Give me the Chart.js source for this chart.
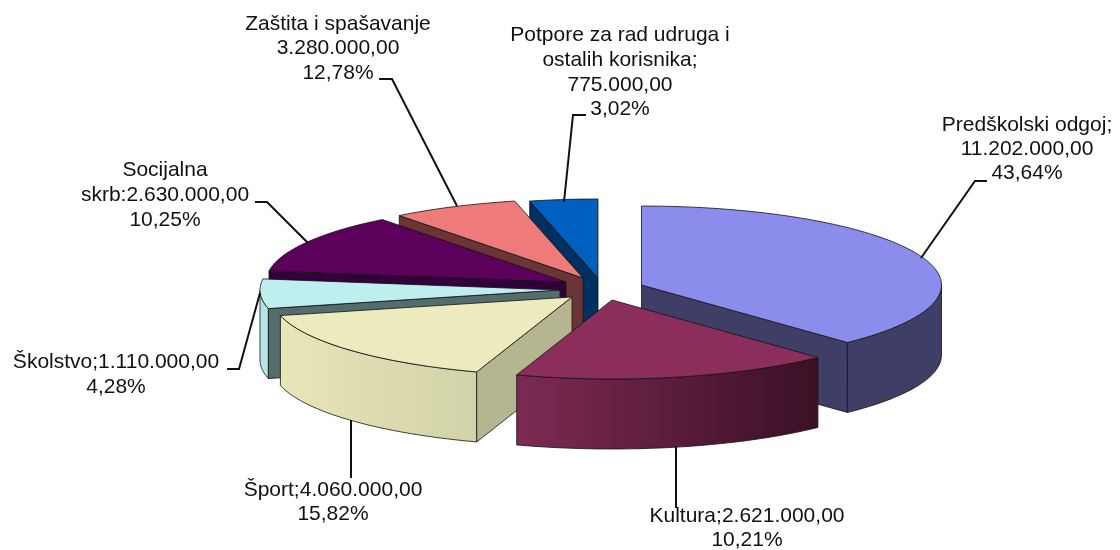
<!DOCTYPE html>
<html>
<head>
<meta charset="utf-8">
<script src="https://cdn.jsdelivr.net/npm/chart.js@4"></script>
<style>
  html, body { margin: 0; padding: 0; background: #fff; }
  canvas { display: block; }
</style>
</head>
<body>
<canvas id="pie" width="1120" height="550"></canvas>
<script>
const categories = ['Predškolski odgoj', 'Kultura', 'Šport', 'Školstvo', 'Socijalna skrb', 'Zaštita i spašavanje', 'Potpore za rad udruga i ostalih korisnika'];
const amounts = [11202000, 2621000, 4060000, 1110000, 2630000, 3280000, 775000];

// slice colours
const topColors = ['#8c8cec', '#8b2e5c', '#ebebbd', '#bfeeee', '#5c005c', '#ef7a7a', '#0060c0'];
const cutColors = ['#3e3e66', '#3e1428', '#b5b591', '#546c6c', '#32003a', '#6b3535', '#00305f'];
const rimFrom = ['#3e3e66', '#7d2a52', '#e6e6b8', '#b5e6e6', '#32003a', '#6b3535', '#00305f'];
const rimTo = ['#3e3e66', '#3a1024', '#d2d2a8', '#b5e6e6', '#32003a', '#6b3535', '#00305f'];

// 3d look: how far each slice is pulled out, and the view's angle distortion
const explodeX = [49.5, 20, -20, -32, -26, -9, 6];
const explodeY = [-3, 12, 9, 2, -6, -10, -10];
const trueAngle = [0, 157.1, 193.9, 250.8, 266.2, 303.1, 349.1, 360];
const viewAngle = [0, 136.7, 198.7, 256.5, 278, 322.2, 346.8, 360];
const drawOrder = [6, 5, 4, 3, 2, 0, 1];
const RX = 300, RY = 79, DEPTH = 70;

// texts and leader lines
const labelLines = [
  ['Predškolski odgoj;', '11.202.000,00', '43,64%'],
  ['Kultura;2.621.000,00', '10,21%'],
  ['Šport;4.060.000,00', '15,82%'],
  ['Školstvo;1.110.000,00', '4,28%'],
  ['Socijalna', 'skrb:2.630.000,00', '10,25%'],
  ['Zaštita i spašavanje', '3.280.000,00', '12,78%'],
  ['Potpore za rad udruga i', 'ostalih korisnika;', '775.000,00', '3,02%']
];
const labelX = [1027, 747, 333, 116, 165, 338, 620];
const labelY = [
  [125, 149, 173],
  [516, 540],
  [490, 514],
  [362, 387],
  [170, 195, 220],
  [24, 48, 73],
  [35, 60, 85, 109]
];
const leaders = [
  [[921, 258], [975, 181], [987, 181]],
  [[676, 446], [676, 508]],
  [[351, 420], [351, 478]],
  [[260, 293], [239, 369], [227, 369]],
  [[308, 243], [267, 202], [255, 202]],
  [[457, 206], [392, 79], [379, 79]],
  [[564, 202], [573, 115], [586, 115]]
];

function toView(deg) {
  for (let i = 1; i < trueAngle.length; i++) {
    if (deg <= trueAngle[i]) {
      const f = (deg - trueAngle[i - 1]) / (trueAngle[i] - trueAngle[i - 1]);
      return viewAngle[i - 1] + f * (viewAngle[i] - viewAngle[i - 1]);
    }
  }
  return 360;
}

function rimPoint(tip, deg) {
  const a = deg * Math.PI / 180;
  return { x: tip.x + RX * Math.sin(a), y: tip.y - RY * Math.cos(a) };
}

function poly(ctx, pts, fill) {
  ctx.beginPath();
  pts.forEach((p, i) => i ? ctx.lineTo(p.x, p.y) : ctx.moveTo(p.x, p.y));
  ctx.closePath();
  ctx.fillStyle = fill;
  ctx.fill();
  ctx.stroke();
}

function drawSlice(ctx, el, i) {
  const tip = { x: el.x + explodeX[i], y: el.y + explodeY[i] };
  const from = toView((el.startAngle + Math.PI / 2) * 180 / Math.PI);
  const to = toView((el.endAngle + Math.PI / 2) * 180 / Math.PI);
  const down = p => ({ x: p.x, y: p.y + DEPTH });
  const mid = rimPoint(tip, (from + to) / 2);

  ctx.strokeStyle = 'rgba(20,20,20,0.8)';
  ctx.lineWidth = 1;
  ctx.lineJoin = 'round';

  // outer rim, front half only
  const a = Math.max(from, 90), b = Math.min(to, 270);
  if (b > a) {
    const top = [];
    for (let d = a; d < b; d += 2) top.push(rimPoint(tip, d));
    top.push(rimPoint(tip, b));
    const xs = top.map(p => p.x);
    const grad = ctx.createLinearGradient(Math.min(...xs), 0, Math.max(...xs), 0);
    grad.addColorStop(0, rimFrom[i]);
    grad.addColorStop(1, rimTo[i]);
    poly(ctx, top.concat(top.slice().reverse().map(down)), grad);
  }

  // straight cut faces, only the ones turned to the viewer
  [from, to].forEach(deg => {
    const p = rimPoint(tip, deg);
    const vx = p.x - tip.x, vy = p.y - tip.y;
    const side = vx * (mid.y - tip.y) - vy * (mid.x - tip.x);
    if (Math.abs(vx) > 0.5 && side * -vx > 0) {
      poly(ctx, [tip, p, down(p), down(tip)], cutColors[i]);
    }
  });

  // top face
  const face = [tip];
  for (let d = from; d < to; d += 2) face.push(rimPoint(tip, d));
  face.push(rimPoint(tip, to));
  poly(ctx, face, topColors[i]);
}

const pie3d = {
  id: 'pie3d',
  beforeDatasetDraw(chart, args) {
    const ctx = chart.ctx;
    const arcs = chart.getDatasetMeta(args.index).data;
    ctx.save();
    drawOrder.forEach(i => drawSlice(ctx, arcs[i], i));
    ctx.restore();
    return false;
  },
  afterDraw(chart) {
    const ctx = chart.ctx;
    ctx.save();
    ctx.strokeStyle = '#111';
    ctx.lineWidth = 2;
    leaders.forEach(line => {
      ctx.beginPath();
      line.forEach((p, i) => i ? ctx.lineTo(p[0], p[1]) : ctx.moveTo(p[0], p[1]));
      ctx.stroke();
    });
    ctx.fillStyle = '#111';
    ctx.font = '21px "Liberation Sans", Arial, sans-serif';
    ctx.textAlign = 'center';
    ctx.textBaseline = 'middle';
    labelLines.forEach((lines, i) => {
      lines.forEach((t, j) => ctx.fillText(t, labelX[i], labelY[i][j]));
    });
    ctx.restore();
  }
};

new Chart(document.getElementById('pie').getContext('2d'), {
  type: 'pie',
  data: {
    labels: categories,
    datasets: [{ data: amounts, backgroundColor: topColors }]
  },
  options: {
    responsive: false,
    animation: false,
    layout: { padding: { left: 64, top: 26 } },
    plugins: { legend: { display: false }, tooltip: { enabled: false } }
  },
  plugins: [pie3d]
});
</script>
</body>
</html>
